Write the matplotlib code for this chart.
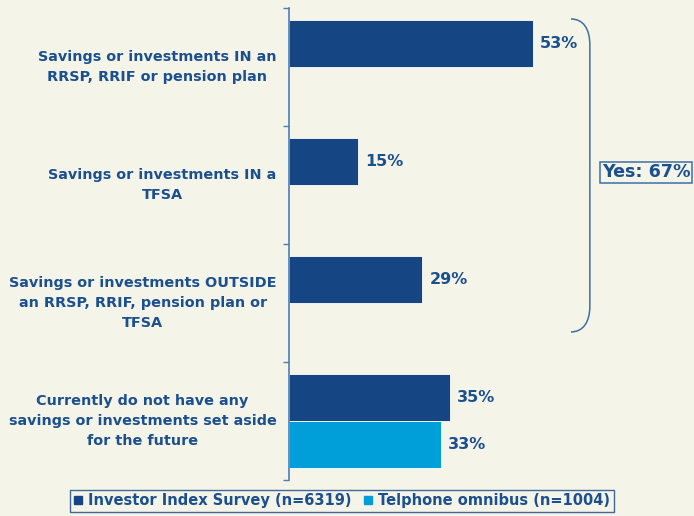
import numpy as np
import matplotlib
matplotlib.use("Agg")
import matplotlib.pyplot as plt
from matplotlib.path import Path
from matplotlib.patches import PathPatch
from matplotlib.lines import Line2D

plt.rcParams["font.family"] = "DejaVu Sans"
plt.rcParams["font.weight"] = "bold"

categories = [
    "Savings or investments IN an\nRRSP, RRIF or pension plan",
    "Savings or investments IN a\nTFSA",
    "Savings or investments OUTSIDE\nan RRSP, RRIF, pension plan or\nTFSA",
    "Currently do not have any\nsavings or investments set aside\nfor the future",
]
investor_index = [53, 15, 29, 35]
telephone_omnibus = [None, None, None, 33]
series_names = ["Investor Index Survey (n=6319)", "Telphone omnibus (n=1004)"]
yes_total = 67

BG = "#F4F4E9"
DARK = "#164583"
LIGHT = "#009FDA"
TXT = "#1B4F8E"
LINE = "#3E6FA6"
AXIS = "#4F7EB2"

fig = plt.figure(figsize=(6.94, 5.16), dpi=100, facecolor=BG)
ax = fig.add_axes([289 / 694, 36 / 516, 276 / 694, 472 / 516])
ax.set_facecolor(BG)

pos = np.arange(len(categories))
h = 0.4
for vals, color, off in [(investor_index, DARK, 0.3), (telephone_omnibus, LIGHT, 0.7)]:
    for i, v in enumerate(vals):
        if v is None:
            continue
        ax.barh(pos[i] + off, v, height=h, color=color, edgecolor="white", linewidth=0.6)
        ax.annotate(f"{v}%", (v, pos[i] + off), xytext=(5, 0), textcoords="offset points",
                    ha="left", va="center", fontsize=11.5, fontweight="bold", color=TXT)

for i, lab in enumerate(categories):
    ax.annotate(lab, (0, pos[i] + 0.5), xytext=(-9, 0), textcoords="offset points",
                ha="right", va="center", multialignment="center", fontsize=10.4,
                fontweight="bold", color=TXT, linespacing=1.55)

ax.set_xlim(0, 60)
ax.set_ylim(len(categories), 0)
ax.set_xticks([])
ax.set_yticks(np.arange(len(categories) + 1))
ax.set_yticklabels([])
ax.tick_params(axis="y", direction="out", length=4, width=1, color=AXIS)
for s in ["top", "right", "bottom"]:
    ax.spines[s].set_visible(False)
ax.spines["left"].set_color(AXIS)
ax.spines["left"].set_linewidth(1.2)

# bracket grouping the three "yes" answers
x0, x1 = 61.3, 65.4
y0, y1 = 0.093, 2.745
verts = [(x0, y0), (x0 + 2.6, y0), (x1, y0 + 0.08), (x1, y0 + 0.22),
         (x1, y1 - 0.22),
         (x1, y1 - 0.08), (x0 + 2.6, y1), (x0, y1)]
codes = [Path.MOVETO, Path.CURVE4, Path.CURVE4, Path.CURVE4,
         Path.LINETO,
         Path.CURVE4, Path.CURVE4, Path.CURVE4]
ax.add_patch(PathPatch(Path(verts, codes), fill=False, edgecolor=LINE, lw=1.1, clip_on=False))

ax.text(602 / 694, 1 - 172.5 / 516, f"Yes: {yes_total}%", transform=fig.transFigure,
        ha="left", va="center", fontsize=12.6, fontweight="bold", color=TXT,
        bbox=dict(boxstyle="square,pad=0.1", facecolor=BG, edgecolor=LINE, linewidth=1.1))

handles = [Line2D([], [], marker="s", ls="", color=DARK, markersize=6),
           Line2D([], [], marker="s", ls="", color=LIGHT, markersize=6)]
leg = fig.legend(handles, series_names, loc="center", bbox_to_anchor=(342 / 694, 1 - 501 / 516),
                 ncol=2, frameon=True, fancybox=False, edgecolor=DARK, facecolor=BG,
                 prop=dict(size=10.5, weight="bold"), handlelength=0.6, handletextpad=0.4,
                 columnspacing=0.8, borderpad=0.25, borderaxespad=0)
leg.get_frame().set_linewidth(1)
for t in leg.get_texts():
    t.set_color(TXT)

fig.savefig("out.png", dpi=100, facecolor=BG)
